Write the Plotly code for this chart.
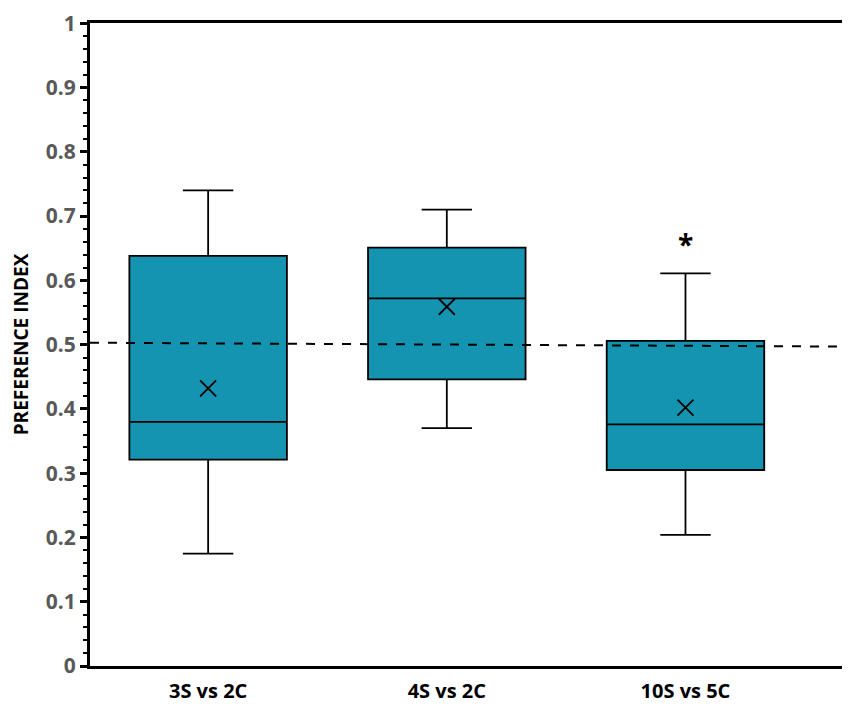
import plotly.graph_objects as go

# box summaries
groups = ["3S vs 2C", "4S vs 2C", "10S vs 5C"]
lower_whisker = [0.175, 0.370, 0.204]
q1_vals = [0.321, 0.446, 0.305]
medians = [0.380, 0.572, 0.376]
q3_vals = [0.638, 0.651, 0.506]
upper_whisker = [0.740, 0.710, 0.611]
means = [0.432, 0.559, 0.402]
ytick_vals = [0, 0.1, 0.2, 0.3, 0.4, 0.5, 0.6, 0.7, 0.8, 0.9, 1]
ytick_text = ["0", "0.1", "0.2", "0.3", "0.4", "0.5", "0.6", "0.7", "0.8", "0.9", "1"]

xpos = list(range(len(groups)))

fig = go.Figure()

fig.add_trace(go.Box(
    x=xpos,
    q1=q1_vals, median=medians, q3=q3_vals,
    lowerfence=lower_whisker, upperfence=upper_whisker,
    fillcolor="#1594B2",
    line=dict(color="black", width=1.8),
    width=0.66,
    whiskerwidth=0.32,
    boxpoints=False,
    showlegend=False,
    hoverinfo="skip",
))

# mean markers
fig.add_trace(go.Scatter(
    x=xpos, y=means, mode="markers",
    marker=dict(symbol="x-thin", size=16, line=dict(color="black", width=1.8)),
    showlegend=False,
))

# 0.5 reference line (dashed)
fig.add_shape(type="line", xref="paper", yref="y", x0=0, x1=1, y0=0.503, y1=0.497,
              line=dict(color="black", width=2, dash="dash"))

# significance star
fig.add_annotation(x=2, y=0.657, text="<b>*</b>", showarrow=False,
                   font=dict(size=28, color="black", family="Open Sans"))

# page has an 8px body margin, so the figure is sized a bit smaller
fig.update_layout(
    width=842, height=704,
    margin=dict(l=82, r=7, t=15, b=46),
    plot_bgcolor="white", paper_bgcolor="white",
    font=dict(family="Open Sans", color="black"),
)

fig.update_xaxes(
    range=[-0.495, 2.66],
    tickvals=xpos, ticktext=["<b>%s</b>" % g for g in groups],
    tickfont=dict(size=20, color="black"),
    showline=True, linecolor="black", linewidth=3, mirror=True,
    showgrid=False, zeroline=False, ticks="", ticklabelstandoff=5,
    automargin=False,
)

fig.update_yaxes(
    range=[0, 1.0005],
    tickvals=ytick_vals, ticktext=["<b>%s</b>" % t for t in ytick_text],
    tickfont=dict(size=21, color="#595959"),
    ticklabeloverflow="allow",
    showline=True, linecolor="black", linewidth=3, mirror=True,
    ticks="outside", ticklen=7, tickwidth=2.5, tickcolor="black",
    minor=dict(dtick=0.02, ticks="outside", ticklen=4, tickwidth=2, tickcolor="black"),
    showgrid=False, zeroline=False, automargin=False,
    title=dict(text="<b>PREFERENCE INDEX</b>", font=dict(size=19, color="black"), standoff=18),
)

fig.write_html("out.html")
